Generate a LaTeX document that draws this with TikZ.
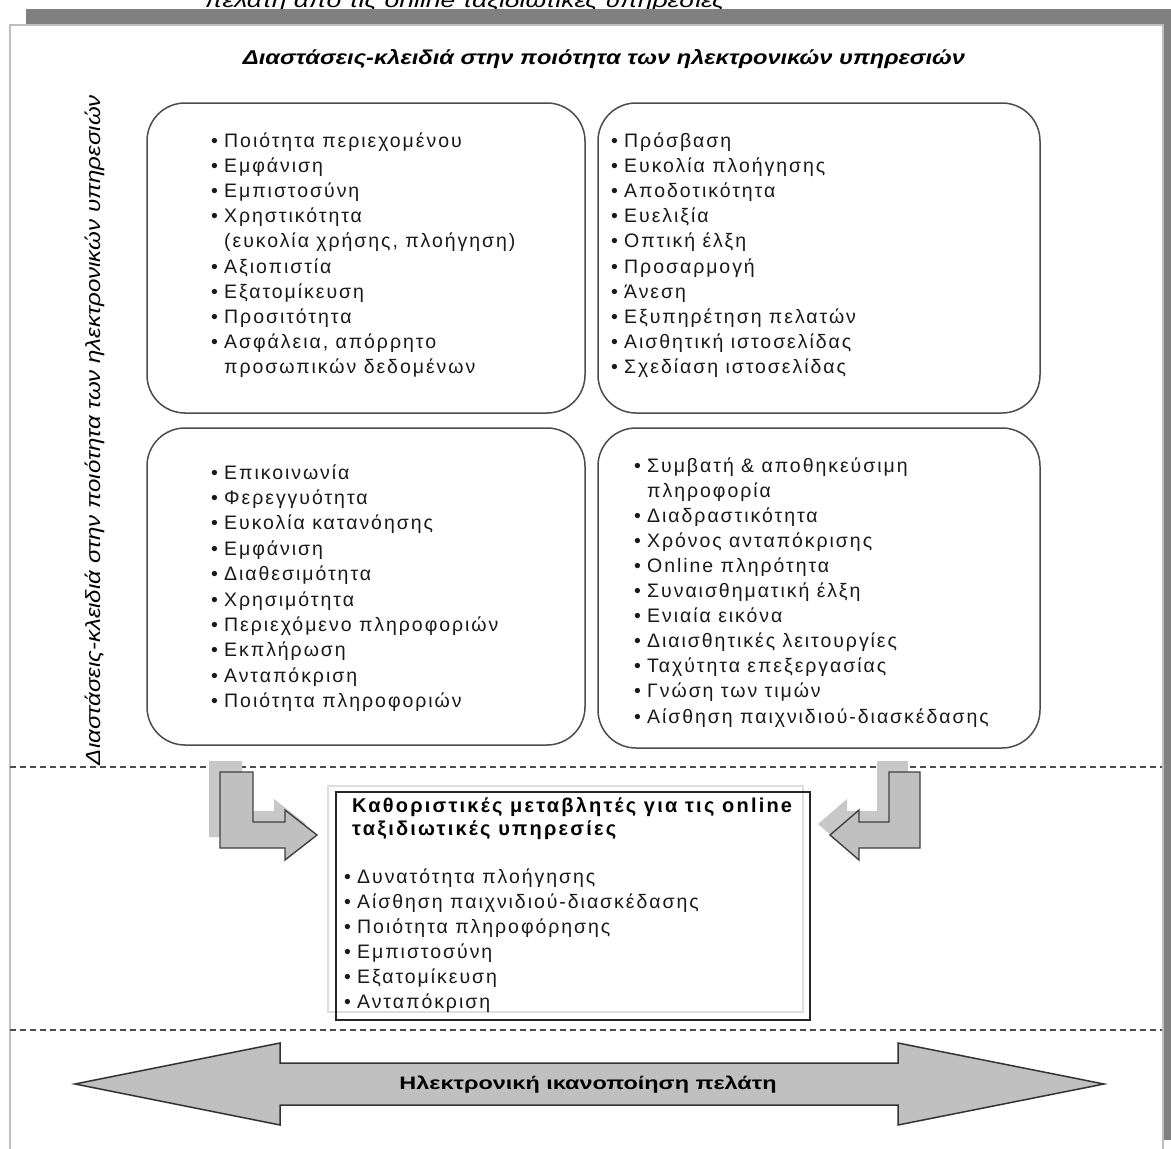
\documentclass[tikz,border=0pt]{standalone}
\usepackage{fontspec}
\usepackage{graphicx}
\setmainfont{Liberation Sans}
\newfontfamily\itemfont[LetterSpace=10]{Liberation Sans}
\newfontfamily\headfont[LetterSpace=11]{Liberation Sans}
\definecolor{shadowgray}{HTML}{808080}
\definecolor{framegray}{HTML}{BEBEBE}
\definecolor{arrowfill}{HTML}{C0C0C0}
\definecolor{arrowshade}{HTML}{C8C8C8}
\newcommand\bul{\makebox[13pt][l]{•}}
\newcommand\cont{\hspace*{13pt}}
\begin{document}
\begin{tikzpicture}[x=1pt,y=-1pt,
  itm/.style={font=\itemfont\fontsize{19.5}{21}\selectfont, anchor=base west, inner sep=0pt, text=black!90},
  hdr/.style={font=\headfont\bfseries\fontsize{20}{22}\selectfont, anchor=base west, inner sep=0pt},
  qbox/.style={draw=black!70, line width=1.5pt, rounded corners=38pt, rectangle, inner sep=0pt},
  sepline/.style={draw=black!70, line width=1.1pt, dash pattern=on 6pt off 4pt},
  bentarrow/.style={fill=arrowfill, draw=black!75, line width=1.4pt, line join=miter},
  bentshade/.style={fill=arrowshade},
]
\useasboundingbox (0,0) rectangle (1171,1149);

% caption line of the page above the figure frame
\node[font=\itshape\fontsize{20}{22}\selectfont, anchor=base, inner sep=0pt] (caption) at (465,7)
  {\resizebox{520pt}{\height}{πελάτη από τις online ταξιδιωτικές υπηρεσίες}};

% frame with its drop shadow
\fill[shadowgray] (26,9) rectangle (1171,1140);
\filldraw[fill=white, draw=framegray, line width=2.6pt] (10,25) rectangle (1163,1165);

% headings
\node[font=\bfseries\itshape\fontsize{20}{22}\selectfont, anchor=base, inner sep=0pt] (toptitle) at (604,64)
  {\resizebox{722pt}{\height}{Διαστάσεις-κλειδιά στην ποιότητα των ηλεκτρονικών υπηρεσιών}};
\node[font=\itshape\fontsize{20.5}{22}\selectfont, anchor=base, inner sep=0pt, rotate=90] (sidetitle) at (100,430)
  {\resizebox{670pt}{\height}{Διαστάσεις-κλειδιά στην ποιότητα των ηλεκτρονικών υπηρεσιών}};

% four quality boxes
\node[qbox, minimum width=438pt, minimum height=310pt] (tl) at (366,258) {};
\node[qbox, minimum width=442pt, minimum height=310pt] (tr) at (819,258) {};
\node[qbox, minimum width=438pt, minimum height=317pt] (bl) at (366,586.5) {};
\node[qbox, minimum width=442pt, minimum height=320pt] (br) at (819,588) {};

\foreach \t [count=\i from 0] in {
  {\bul Ποιότητα περιεχομένου},
  {\bul Εμφάνιση},
  {\bul Εμπιστοσύνη},
  {\bul Χρηστικότητα},
  {\cont (ευκολία χρήσης, πλοήγηση)},
  {\bul Αξιοπιστία},
  {\bul Εξατομίκευση},
  {\bul Προσιτότητα},
  {\bul Ασφάλεια, απόρρητο},
  {\cont προσωπικών δεδομένων}}
  \node[itm] (tl-\i) at (211,{147+25.2*\i}) {\t};

\foreach \t [count=\i from 0] in {
  {\bul Πρόσβαση},
  {\bul Ευκολία πλοήγησης},
  {\bul Αποδοτικότητα},
  {\bul Ευελιξία},
  {\bul Οπτική έλξη},
  {\bul Προσαρμογή},
  {\bul Άνεση},
  {\bul Εξυπηρέτηση πελατών},
  {\bul Αισθητική ιστοσελίδας},
  {\bul Σχεδίαση ιστοσελίδας}}
  \node[itm] (tr-\i) at (611,{147+25.2*\i}) {\t};

\foreach \t [count=\i from 0] in {
  {\bul Επικοινωνία},
  {\bul Φερεγγυότητα},
  {\bul Ευκολία κατανόησης},
  {\bul Εμφάνιση},
  {\bul Διαθεσιμότητα},
  {\bul Χρησιμότητα},
  {\bul Περιεχόμενο πληροφοριών},
  {\bul Εκπλήρωση},
  {\bul Ανταπόκριση},
  {\bul Ποιότητα πληροφοριών}}
  \node[itm] (bl-\i) at (211,{479+25.4*\i}) {\t};

\foreach \t [count=\i from 0] in {
  {\bul Συμβατή \& αποθηκεύσιμη},
  {\cont πληροφορία},
  {\bul Διαδραστικότητα},
  {\bul Χρόνος ανταπόκρισης},
  {\bul Online πληρότητα},
  {\bul Συναισθηματική έλξη},
  {\bul Ενιαία εικόνα},
  {\bul Διαισθητικές λειτουργίες},
  {\bul Ταχύτητα επεξεργασίας},
  {\bul Γνώση των τιμών},
  {\bul Αίσθηση παιχνιδιού-διασκέδασης}}
  \node[itm] (br-\i) at (634,{472+25.1*\i}) {\t};

% section separators
\coordinate (sepA-l) at (10,767);
\coordinate (sepA-r) at (1162,767);
\coordinate (sepB-l) at (10,1030);
\coordinate (sepB-r) at (1162,1030);
\draw[sepline] (sepA-l) -- (sepA-r);
\draw[sepline] (sepB-l) -- (sepB-r);

% bent arrows feeding the central box
\fill[bentshade, shift={(-11,-11)}] (220,772) -- (253,772) -- (253,822) -- (285,822) -- (285,810) -- (317,835) -- (285,860) -- (285,848) -- (220,848) -- cycle;
\fill[bentshade, shift={(-12,-11)}] (920,772) -- (889,772) -- (889,822) -- (859,822) -- (859,810) -- (830,835) -- (859,860) -- (859,848) -- (920,848) -- cycle;
\draw[bentarrow] (220,772) -- (253,772) -- (253,822) -- (285,822) -- (285,810) -- (317,835) -- (285,860) -- (285,848) -- (220,848) -- cycle;
\draw[bentarrow] (920,772) -- (889,772) -- (889,822) -- (859,822) -- (859,810) -- (830,835) -- (859,860) -- (859,848) -- (920,848) -- cycle;

% central box of determining variables
\draw[draw=black!13, line width=1.8pt] (328,786) rectangle (803,1012);
\draw[draw=black!85, line width=1.4pt] (336,792) rectangle (810,1020);
\node[hdr] (cb-h1) at (352,812) {Καθοριστικές μεταβλητές για τις online};
\node[hdr] (cb-h2) at (352,835) {ταξιδιωτικές υπηρεσίες};
\foreach \t [count=\i from 0] in {
  {\bul Δυνατότητα πλοήγησης},
  {\bul Αίσθηση παιχνιδιού-διασκέδασης},
  {\bul Ποιότητα πληροφόρησης},
  {\bul Εμπιστοσύνη},
  {\bul Εξατομίκευση},
  {\bul Ανταπόκριση}}
  \node[itm] (cb-\i) at (344,{883+25*\i}) {\t};

% double-headed satisfaction arrow
\filldraw[fill=arrowfill, draw=black!80, line width=1.5pt, line join=miter]
  (75,1084) -- (280,1043) -- (280,1063) -- (898,1063) -- (898,1043) -- (1104,1084)
  -- (898,1125) -- (898,1105) -- (280,1105) -- (280,1125) -- cycle;
\node[font=\bfseries\fontsize{18}{20}\selectfont, inner sep=0pt] (sat) at (588,1085)
  {\resizebox{377pt}{\height}{Ηλεκτρονική ικανοποίηση πελάτη}};
\end{tikzpicture}
\end{document}
